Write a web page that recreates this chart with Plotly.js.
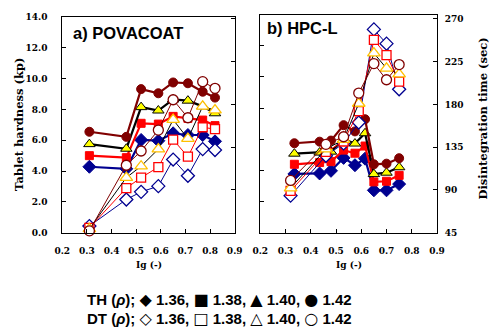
<!DOCTYPE html>
<html>
<head>
<meta charset="utf-8">
<script src="https://cdn.plot.ly/plotly-3.0.1.min.js"></script>
<style>html,body{margin:0;padding:0;background:#fff;}#chart{width:489px;height:327px;}</style>
</head>
<body>
<div id="chart"></div>
<script>
// ---- Data: a) POVACOAT ----
const igPova = [0.31, 0.46, 0.52, 0.59, 0.65, 0.71, 0.77, 0.82];
const thPova136 = [4.28, 4.15, 6.02, 5.97, 6.45, 6.34, 6.34, 5.93];
const thPova138 = [5.00, 4.87, 7.10, 7.05, 7.55, 7.42, 7.31, 6.95];
const thPova140 = [5.75, 5.45, 8.15, 7.93, 8.65, 8.57, 8.20, 7.75];
const thPova142 = [6.55, 6.22, 9.32, 9.05, 9.75, 9.70, 9.15, 8.77];
const dtPova136 = [52, 80, 88, 94, 122, 105, 133, 132];
const dtPova138 = [50, 92, 103, 114, 143, 125, 156, 154];
const dtPova140 = [49, 103, 115, 133, 164, 144, 178, 174];
const dtPova142 = [47, 116, 131, 153, 185, 166, 204, 197];

// ---- Data: b) HPC-L ----
const igHpcTH = [0.335, 0.435, 0.48, 0.53, 0.575, 0.615, 0.65, 0.70, 0.75];
const thHpc136 = [3.77, 3.80, 3.97, 4.80, 4.33, 4.75, 2.72, 2.72, 3.12];
const thHpc138 = [4.39, 4.50, 4.56, 5.30, 5.10, 5.56, 3.26, 3.30, 3.68];
const thHpc140 = [5.07, 5.14, 5.20, 6.00, 5.72, 6.38, 3.76, 3.85, 4.20];
const thHpc142 = [5.74, 5.84, 5.91, 6.90, 6.50, 7.28, 4.39, 4.43, 4.78];
const igHpcDT = [0.32, 0.46, 0.53, 0.59, 0.65, 0.70, 0.75];
const dtHpc136 = [84, 126, 139, 161, 259, 244, 196];
const dtHpc138 = [89, 130, 141, 173, 248, 232, 204];
const dtHpc140 = [92, 133, 143, 181, 234, 218, 212];
const dtHpc142 = [100, 138, 146, 192, 223, 206, 222];

// ---- Labels ----
const panelTitles = ['a) POVACOAT', 'b) HPC-L'];
const yTitleLeft = 'Tablet hardness (kp)';
const yTitleRight = 'Disintegration time (sec)';
const xTitle = 'Ig (-)';
const rhoLabels = ['1.36', '1.38', '1.40', '1.42'];
const thGlyphs = ['◆', '■', '▲', '●'];
const dtGlyphs = ['◇', '□', '△', '○'];

function legendLine(prefix, glyphs) {
  const parts = glyphs.map((g, i) =>
    '<span style="font-size:16px;font-family:DejaVu Sans">' + g + '</span> ' + rhoLabels[i]);
  return prefix + ' (<i>ρ</i>); ' + parts.join(', ');
}
const legendTH = legendLine('TH', thGlyphs);
const legendDT = legendLine('DT', dtGlyphs);

// ---- Styles ----
const NAVY = '#000090', RED = '#FF0000', BLACK = '#000000', DRED = '#800000', YEL = '#FFFF00', GOLD = '#FFC000';
const thStyles = [
  {sym: 'diamond', line: NAVY, fill: NAVY, edge: NAVY, size: 10},
  {sym: 'square', line: RED, fill: RED, edge: RED, size: 8},
  {sym: 'triangle-up', line: BLACK, fill: YEL, edge: BLACK, size: 10},
  {sym: 'circle', line: DRED, fill: DRED, edge: DRED, size: 9}
];
const dtStyles = [
  {sym: 'diamond', line: NAVY, edge: NAVY, size: 10},
  {sym: 'square', line: RED, edge: RED, size: 9},
  {sym: 'triangle-up', line: BLACK, edge: GOLD, size: 11},
  {sym: 'circle', line: DRED, edge: DRED, size: 10}
];

function thTrace(x, y, st, xa, ya) {
  return {x: x, y: y, xaxis: xa, yaxis: ya, type: 'scatter', mode: 'lines+markers',
    line: {color: st.line, width: 2.2},
    marker: {symbol: st.sym, size: st.size, color: st.fill, line: {color: st.edge, width: 1}},
    showlegend: false, hoverinfo: 'skip', cliponaxis: false};
}
function dtTrace(x, y, st, xa, ya) {
  return {x: x, y: y, xaxis: xa, yaxis: ya, type: 'scatter', mode: 'lines+markers',
    line: {color: st.line, width: 1},
    marker: {symbol: st.sym, size: st.size, color: '#FFFFFF', line: {color: st.edge, width: 1.3}},
    showlegend: false, hoverinfo: 'skip', cliponaxis: false};
}

const thPova = [thPova136, thPova138, thPova140, thPova142];
const dtPova = [dtPova136, dtPova138, dtPova140, dtPova142];
const thHpc = [thHpc136, thHpc138, thHpc140, thHpc142];
const dtHpc = [dtHpc136, dtHpc138, dtHpc140, dtHpc142];

const traces = [];
thPova.forEach((v, i) => traces.push(thTrace(igPova, v, thStyles[i], 'x', 'y')));
dtPova.forEach((v, i) => traces.push(dtTrace(igPova, v, dtStyles[i], 'x', 'y2')));
thHpc.forEach((v, i) => traces.push(thTrace(igHpcTH, v, thStyles[i], 'x2', 'y3')));
dtHpc.forEach((v, i) => traces.push(dtTrace(igHpcDT, v, dtStyles[i], 'x2', 'y4')));

const W = 489, H = 327;
const tickFont = {family: 'DejaVu Serif', size: 9, color: '#000', weight: 'bold'};
const xBase = {range: [0.2, 0.9], dtick: 0.1, tick0: 0.2, tickformat: '.1f', ticks: 'inside', ticklen: 4,
  tickwidth: 1, tickcolor: '#000', showline: true, linecolor: '#000', linewidth: 1, mirror: true,
  showgrid: false, zeroline: false, tickfont: tickFont, fixedrange: true, ticklabelstandoff: 9};
const yLeftBase = {range: [0, 14], dtick: 2, tick0: 0, tickformat: '.1f', ticks: 'inside', ticklen: 4,
  tickwidth: 1, tickcolor: '#000', showline: true, linecolor: '#000', linewidth: 1,
  showgrid: false, zeroline: false, tickfont: tickFont, fixedrange: true};
const yRightBase = {dtick: 45, tick0: 45, ticks: 'inside', ticklen: 4, tickwidth: 1, tickcolor: '#000',
  showline: true, linecolor: '#000', linewidth: 1, showgrid: false, zeroline: false, side: 'right',
  tickfont: tickFont, fixedrange: true};

const titleFont = {family: 'DejaVu Serif', size: 11.5, color: '#000', weight: 'bold'};
const panelFont = {family: 'Liberation Sans, Arial, sans-serif', size: 16.5, color: '#000', weight: 'bold'};
const legFont = {family: 'Liberation Sans, Arial, DejaVu Sans, sans-serif', size: 15, color: '#000', weight: 'bold'};
const px = v => v / W, py = v => (H - v) / H;

const layout = {
  width: W, height: H, margin: {l: 0, r: 0, t: 0, b: 0},
  paper_bgcolor: '#fff', plot_bgcolor: '#fff', showlegend: false,
  xaxis: Object.assign({}, xBase, {domain: [px(62.3), px(234.7)], anchor: 'y'}),
  yaxis: Object.assign({}, yLeftBase, {domain: [py(232.7), py(17)], anchor: 'x', ticklabelstandoff: 12}),
  yaxis2: Object.assign({}, yRightBase, {range: [45, 272.1], overlaying: 'y', anchor: 'x', showticklabels: false}),
  xaxis2: Object.assign({}, xBase, {domain: [px(260.3), px(437)], anchor: 'y3'}),
  yaxis3: Object.assign({}, yLeftBase, {domain: [py(232.7), py(14.5)], anchor: 'x2', showticklabels: false}),
  yaxis4: Object.assign({}, yRightBase, {range: [45, 274.7], overlaying: 'y3', anchor: 'x2', ticklabelstandoff: 5}),
  annotations: [
    {text: panelTitles[0], x: px(71), y: py(33), xref: 'paper', yref: 'paper', xanchor: 'left', yanchor: 'middle', showarrow: false, font: panelFont},
    {text: panelTitles[1], x: px(264.5), y: py(28.3), xref: 'paper', yref: 'paper', xanchor: 'left', yanchor: 'middle', showarrow: false, font: panelFont},
    {text: yTitleLeft, x: px(19), y: py(125), xref: 'paper', yref: 'paper', xanchor: 'center', yanchor: 'middle', textangle: -90, showarrow: false, font: titleFont},
    {text: yTitleRight, x: px(482), y: py(118.5), xref: 'paper', yref: 'paper', xanchor: 'center', yanchor: 'middle', textangle: -90, showarrow: false, font: titleFont},
    {text: xTitle, x: px(148.5), y: py(264.5), xref: 'paper', yref: 'paper', xanchor: 'center', yanchor: 'middle', showarrow: false, font: {family: 'DejaVu Serif', size: 9, color: '#000', weight: 'bold'}},
    {text: xTitle, x: px(348.6), y: py(264.5), xref: 'paper', yref: 'paper', xanchor: 'center', yanchor: 'middle', showarrow: false, font: {family: 'DejaVu Serif', size: 9, color: '#000', weight: 'bold'}},
    {text: legendTH, x: px(85), y: py(299), xref: 'paper', yref: 'paper', xanchor: 'left', yanchor: 'middle', showarrow: false, font: legFont},
    {text: legendDT, x: px(85), y: py(318.5), xref: 'paper', yref: 'paper', xanchor: 'left', yanchor: 'middle', showarrow: false, font: legFont}
  ]
};

Plotly.newPlot('chart', traces, layout, {staticPlot: true, displayModeBar: false});
</script>
</body>
</html>
